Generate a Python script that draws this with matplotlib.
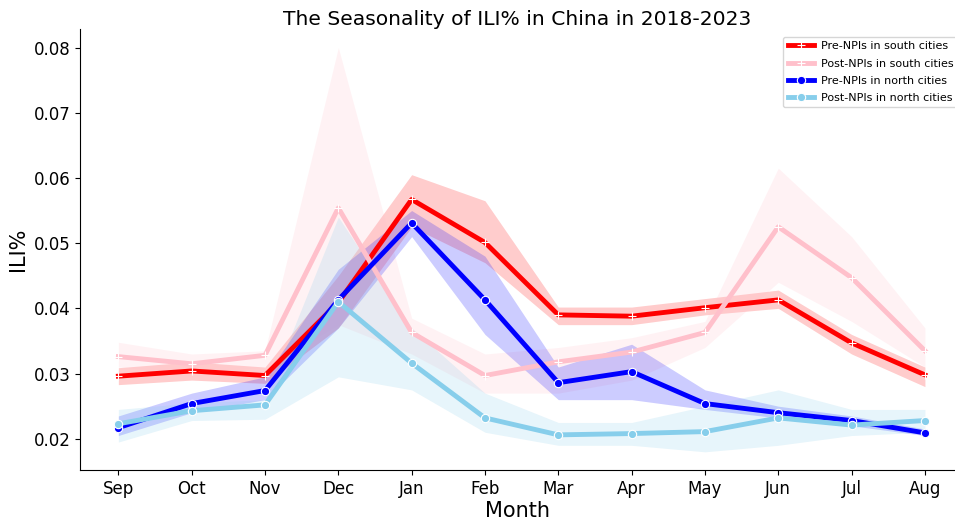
import numpy as np
import matplotlib.pyplot as plt

months = ["Sep", "Oct", "Nov", "Dec", "Jan", "Feb", "Mar", "Apr", "May", "Jun", "Jul", "Aug"]

# mean ILI% per month with lower / upper bounds of the band
pre_south = [0.0296, 0.0304, 0.0297, 0.0409, 0.0567, 0.0501, 0.0390, 0.0388, 0.0401, 0.0413, 0.0347, 0.0298]
pre_south_lo = [0.0283, 0.0290, 0.0285, 0.0370, 0.0525, 0.0470, 0.0375, 0.0375, 0.0390, 0.0400, 0.0330, 0.0280]
pre_south_hi = [0.0309, 0.0318, 0.0310, 0.0450, 0.0605, 0.0565, 0.0402, 0.0402, 0.0415, 0.0428, 0.0360, 0.0310]

post_south = [0.0326, 0.0315, 0.0328, 0.0554, 0.0363, 0.0297, 0.0318, 0.0333, 0.0363, 0.0525, 0.0447, 0.0335]
post_south_lo = [0.0310, 0.0300, 0.0310, 0.0375, 0.0330, 0.0270, 0.0270, 0.0290, 0.0340, 0.0440, 0.0380, 0.0310]
post_south_hi = [0.0348, 0.0330, 0.0335, 0.0800, 0.0385, 0.0330, 0.0340, 0.0355, 0.0380, 0.0615, 0.0510, 0.0370]

pre_north = [0.0217, 0.0254, 0.0274, 0.0413, 0.0531, 0.0413, 0.0286, 0.0303, 0.0254, 0.0240, 0.0228, 0.0209]
pre_north_lo = [0.0205, 0.0240, 0.0260, 0.0370, 0.0510, 0.0360, 0.0260, 0.0260, 0.0245, 0.0232, 0.0220, 0.0205]
pre_north_hi = [0.0235, 0.0270, 0.0295, 0.0460, 0.0550, 0.0480, 0.0310, 0.0345, 0.0275, 0.0250, 0.0235, 0.0215]

post_north = [0.0223, 0.0243, 0.0252, 0.0410, 0.0316, 0.0232, 0.0206, 0.0208, 0.0211, 0.0232, 0.0221, 0.0228]
post_north_lo = [0.0195, 0.0228, 0.0230, 0.0295, 0.0275, 0.0210, 0.0190, 0.0190, 0.0180, 0.0190, 0.0205, 0.0210]
post_north_hi = [0.0245, 0.0255, 0.0260, 0.0540, 0.0370, 0.0270, 0.0225, 0.0225, 0.0250, 0.0275, 0.0245, 0.0245]

series = [
    ("Pre-NPIs in south cities", pre_south, pre_south_lo, pre_south_hi, "red", "+"),
    ("Post-NPIs in south cities", post_south, post_south_lo, post_south_hi, "pink", "+"),
    ("Pre-NPIs in north cities", pre_north, pre_north_lo, pre_north_hi, "blue", "o"),
    ("Post-NPIs in north cities", post_north, post_north_lo, post_north_hi, "skyblue", "o"),
]

fig = plt.figure(figsize=(9.55, 5.2), dpi=100)
ax = fig.add_axes([0.084, 0.096, 0.916, 0.849])

x = np.arange(len(months))
for label, mean, lo, hi, color, marker in series:
    ax.fill_between(x, lo, hi, color=color, alpha=0.2, linewidth=0)
    ax.plot(x, mean, color=color, linewidth=3.5, marker=marker, markersize=6,
            markeredgecolor="white", markeredgewidth=0.8, label=label)

ax.set_xticks(x)
ax.set_xticklabels(months, fontsize=12)
ax.tick_params(axis="y", labelsize=12)
ax.set_xlim(-0.52, 11.41)
ax.set_ylim(0.0152, 0.0829)
ax.set_yticks([0.02, 0.03, 0.04, 0.05, 0.06, 0.07, 0.08])
ax.set_xlabel("Month", fontsize=15, labelpad=2)
ax.set_ylabel("ILI%", fontsize=15)
ax.set_title("The Seasonality of ILI% in China in 2018-2023", fontsize=14.6, pad=2)
ax.spines["top"].set_visible(False)
ax.spines["right"].set_visible(False)
# legend sits flush against the right edge of the figure
ax.legend(loc="upper left", bbox_to_anchor=(0.82, 0.929), bbox_transform=fig.transFigure,
          fontsize=8, handlelength=2.4, handletextpad=0.6, labelspacing=0.65,
          borderaxespad=0)

plt.savefig("out.png", dpi=100)
